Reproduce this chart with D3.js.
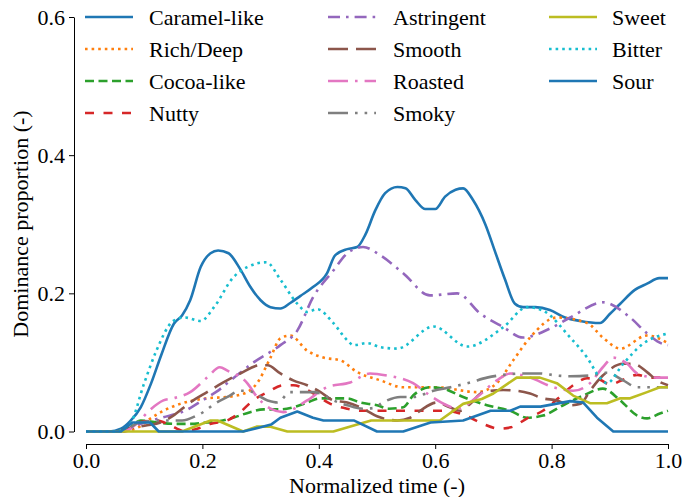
<!DOCTYPE html>
<html>
<head>
<meta charset="utf-8">
<script src="https://cdn.jsdelivr.net/npm/d3@7"></script>
<style>
  body { margin: 0; background: #fff; }
</style>
</head>
<body>
<svg id="chart" width="683" height="497"></svg>
<script>
// values, [time, proportion]
const categories = ["Caramel-like", "Rich/Deep", "Cocoa-like", "Nutty", "Astringent", "Smooth",
                    "Roasted", "Smoky", "Sweet", "Bitter", "Sour"];

const caramelLike = [[0,0],[0.04,0],[0.06,0.004],[0.076,0.015],[0.094,0.035],[0.112,0.07],[0.129,0.11],
  [0.151,0.156],[0.165,0.168],[0.179,0.19],[0.197,0.238],[0.214,0.258],[0.227,0.262],[0.245,0.258],
  [0.265,0.235],[0.282,0.21],[0.3,0.19],[0.317,0.18],[0.334,0.178],[0.351,0.186],[0.368,0.196],
  [0.39,0.209],[0.414,0.229],[0.428,0.255],[0.449,0.264],[0.466,0.267],[0.48,0.285],[0.497,0.32],
  [0.514,0.345],[0.535,0.354],[0.549,0.352],[0.566,0.335],[0.583,0.322],[0.6,0.322],[0.617,0.34],
  [0.635,0.35],[0.648,0.352],[0.665,0.335],[0.686,0.3],[0.703,0.26],[0.72,0.22],[0.737,0.185],
  [0.751,0.18],[0.772,0.18],[0.797,0.176],[0.823,0.165],[0.849,0.16],[0.883,0.157],[0.9,0.17],
  [0.918,0.185],[0.943,0.205],[0.964,0.214],[0.985,0.222],[1,0.222]];

const richDeep = [[0,0],[0.06,0],[0.094,0.008],[0.106,0.016],[0.133,0.03],[0.162,0.04],[0.207,0.048],
  [0.243,0.05],[0.277,0.057],[0.294,0.07],[0.317,0.107],[0.334,0.135],[0.351,0.139],[0.38,0.117],
  [0.408,0.107],[0.437,0.103],[0.466,0.086],[0.506,0.074],[0.545,0.064],[0.603,0.064],[0.672,0.057],
  [0.706,0.07],[0.734,0.103],[0.763,0.136],[0.809,0.165],[0.861,0.157],[0.888,0.136],[0.918,0.12],
  [0.964,0.139],[1,0.128]];

const cocoaLike = [[0,0],[0.065,0],[0.094,0.016],[0.122,0.013],[0.156,0.011],[0.179,0.011],[0.208,0.013],
  [0.23,0.015],[0.253,0.02],[0.282,0.028],[0.305,0.032],[0.334,0.032],[0.356,0.035],[0.38,0.042],
  [0.403,0.048],[0.449,0.048],[0.471,0.042],[0.5,0.038],[0.52,0.033],[0.545,0.035],[0.562,0.052],
  [0.591,0.064],[0.614,0.062],[0.648,0.05],[0.689,0.038],[0.729,0.03],[0.758,0.02],[0.785,0.023],
  [0.82,0.038],[0.854,0.052],[0.888,0.062],[0.918,0.045],[0.947,0.023],[0.964,0.019],[0.986,0.026],[1,0.03]];

const nutty = [[0,0],[0.065,0],[0.09,0.013],[0.122,0.016],[0.145,0.009],[0.167,0.001],[0.191,0.004],
  [0.213,0.011],[0.243,0.016],[0.265,0.028],[0.287,0.045],[0.312,0.057],[0.339,0.067],[0.356,0.067],
  [0.391,0.055],[0.42,0.04],[0.449,0.033],[0.476,0.03],[0.52,0.03],[0.574,0.03],[0.62,0.03],
  [0.655,0.022],[0.682,0.011],[0.71,0.004],[0.73,0.006],[0.758,0.019],[0.785,0.03],[0.814,0.05],
  [0.837,0.067],[0.861,0.077],[0.883,0.075],[0.9,0.068],[0.923,0.075],[0.947,0.082],[0.969,0.078],[1,0.078]];

const astringent = [[0,0],[0.06,0],[0.09,0.01],[0.13,0.02],[0.17,0.03],[0.2,0.045],[0.225,0.058],
  [0.25,0.075],[0.288,0.1],[0.334,0.125],[0.363,0.146],[0.39,0.194],[0.425,0.233],[0.449,0.258],
  [0.476,0.267],[0.506,0.255],[0.545,0.229],[0.591,0.197],[0.638,0.2],[0.677,0.171],[0.717,0.151],
  [0.751,0.136],[0.797,0.149],[0.832,0.165],[0.888,0.187],[0.935,0.165],[0.964,0.142],[0.99,0.127],[1,0.125]];

const smooth = [[0,0],[0.05,0],[0.075,0.005],[0.105,0.009],[0.128,0.013],[0.15,0.023],[0.179,0.042],
  [0.208,0.057],[0.236,0.071],[0.265,0.084],[0.3,0.096],[0.312,0.096],[0.334,0.084],[0.356,0.074],
  [0.38,0.067],[0.403,0.057],[0.425,0.045],[0.449,0.042],[0.476,0.033],[0.5,0.022],[0.535,0.016],
  [0.557,0.02],[0.574,0.03],[0.603,0.042],[0.625,0.035],[0.643,0.03],[0.66,0.04],[0.682,0.057],
  [0.717,0.06],[0.74,0.059],[0.763,0.055],[0.785,0.048],[0.809,0.045],[0.832,0.038],[0.85,0.04],
  [0.866,0.059],[0.888,0.081],[0.923,0.098],[0.94,0.098],[0.964,0.086],[0.981,0.074],[1,0.067]];

const roasted = [[0,0],[0.065,0],[0.088,0.012],[0.106,0.028],[0.133,0.045],[0.15,0.048],[0.179,0.057],
  [0.208,0.078],[0.23,0.093],[0.243,0.088],[0.277,0.07],[0.294,0.05],[0.317,0.033],[0.339,0.028],
  [0.38,0.045],[0.414,0.064],[0.454,0.071],[0.488,0.084],[0.517,0.081],[0.562,0.07],[0.591,0.052],
  [0.62,0.038],[0.638,0.033],[0.672,0.05],[0.706,0.074],[0.729,0.084],[0.763,0.078],[0.803,0.064],
  [0.837,0.059],[0.866,0.07],[0.888,0.093],[0.906,0.107],[0.93,0.098],[0.947,0.084],[0.981,0.078],[1,0.078]];

const smoky = [[0,0],[0.065,0],[0.088,0.012],[0.128,0.016],[0.165,0.016],[0.19,0.023],[0.205,0.03],
  [0.219,0.039],[0.243,0.05],[0.265,0.059],[0.277,0.059],[0.312,0.045],[0.329,0.042],[0.351,0.057],
  [0.39,0.057],[0.403,0.055],[0.425,0.045],[0.449,0.038],[0.476,0.033],[0.494,0.034],[0.51,0.042],
  [0.54,0.05],[0.562,0.05],[0.597,0.059],[0.626,0.064],[0.66,0.071],[0.689,0.078],[0.717,0.082],
  [0.75,0.084],[0.78,0.084],[0.809,0.081],[0.832,0.08],[0.866,0.081],[0.895,0.085],[0.923,0.074],
  [0.947,0.064],[0.969,0.064],[1,0.064]];

const sweet = [[0,0],[0.075,0],[0.165,0],[0.214,0.016],[0.226,0.016],[0.27,0],[0.293,0.007],[0.317,0.007],
  [0.346,0],[0.425,0],[0.466,0.01],[0.49,0.016],[0.608,0.016],[0.648,0.04],[0.68,0.047],[0.7,0.055],
  [0.74,0.078],[0.78,0.078],[0.809,0.07],[0.837,0.052],[0.866,0.041],[0.895,0.041],[0.918,0.048],
  [0.935,0.048],[0.964,0.057],[0.986,0.064],[1,0.064]];

const bitter = [[0,0],[0.05,0],[0.075,0.01],[0.1,0.07],[0.12,0.115],[0.15,0.16],[0.17,0.165],[0.197,0.16],
  [0.22,0.18],[0.253,0.223],[0.277,0.238],[0.31,0.245],[0.334,0.22],[0.363,0.185],[0.38,0.173],
  [0.397,0.177],[0.425,0.157],[0.449,0.132],[0.46,0.125],[0.483,0.128],[0.506,0.122],[0.535,0.12],
  [0.597,0.152],[0.655,0.123],[0.717,0.151],[0.758,0.18],[0.785,0.175],[0.832,0.136],[0.861,0.107],
  [0.883,0.078],[0.895,0.07],[0.923,0.098],[0.957,0.127],[1,0.142]];

const sour = [[0,0],[0.06,0],[0.08,0.013],[0.11,0.013],[0.125,0],[0.27,0],[0.3,0.006],[0.318,0.01],
  [0.334,0.02],[0.363,0.029],[0.39,0.02],[0.408,0.016],[0.46,0.016],[0.5,0],[0.545,0],[0.592,0.013],
  [0.648,0.016],[0.695,0.03],[0.729,0.03],[0.746,0.036],[0.781,0.036],[0.832,0.044],[0.854,0.042],
  [0.878,0.02],[0.906,0],[1,0]];

const seriesValues = [caramelLike, richDeep, cocoaLike, nutty, astringent, smooth,
                      roasted, smoky, sweet, bitter, sour];

const xTicks = [0, 0.2, 0.4, 0.6, 0.8, 1.0];
const yTicks = [0, 0.2, 0.4, 0.6];

// styling
const FONT = "Liberation Serif, Tinos, Times New Roman, Times, DejaVu Serif, serif";
const COLORS = ["#1f77b4", "#ff7f0e", "#2ca02c", "#d62728", "#9467bd", "#8c564b",
                "#e377c2", "#7f7f7f", "#bcbd22", "#17becf", "#1f77b4"];
const DASHES = [null, "2.6,4", "9,4.5", "9,9.5", "12,6,2.6,6", "20,8",
                "20,7,2.6,7", "20,7,2.6,7,2.6,7", null, "2.6,4", null];
const LINEAR = { "Sweet": true, "Sour": true };
const LW = 2.6;

const svg = d3.select("#chart");
const x = d3.scaleLinear().domain([0, 1]).range([86, 668]);
const y = d3.scaleLinear().domain([0, 0.6]).range([431.5, 17]);

// axes (offset spines, no top/right)
svg.append("g")
  .attr("class", "x-axis")
  .attr("transform", "translate(0,444)")
  .call(d3.axisBottom(x).tickValues(xTicks).tickFormat(d3.format(".1f"))
        .tickSize(5).tickSizeOuter(0).tickPadding(3.5));

svg.append("g")
  .attr("class", "y-axis")
  .attr("transform", "translate(74,0)")
  .call(d3.axisLeft(y).tickValues(yTicks).tickFormat(d3.format(".1f"))
        .tickSize(5).tickSizeOuter(0).tickPadding(4));

svg.selectAll(".x-axis, .y-axis")
  .attr("font-family", FONT)
  .attr("font-size", 22);
svg.selectAll(".tick text").attr("fill", "#000");
svg.selectAll(".domain, .tick line").attr("stroke", "#000").attr("stroke-width", 1);

svg.append("text")
  .attr("x", 377).attr("y", 493)
  .attr("text-anchor", "middle")
  .attr("font-family", FONT)
  .attr("font-size", 22)
  .text("Normalized time (-)");

svg.append("text")
  .attr("transform", "translate(28,224) rotate(-90)")
  .attr("text-anchor", "middle")
  .attr("font-family", FONT)
  .attr("font-size", 22)
  .text("Dominance proportion (-)");

// lines
const plot = svg.append("g");
categories.forEach(function(name, i) {
  let line = d3.line()
    .x(function(d) { return x(d[0]); })
    .y(function(d) { return y(d[1]); })
    .curve(LINEAR[name] ? d3.curveLinear : d3.curveMonotoneX);

  plot.append("path")
    .datum(seriesValues[i])
    .attr("d", line)
    .attr("fill", "none")
    .attr("stroke", COLORS[i])
    .attr("stroke-width", LW)
    .attr("stroke-dasharray", DASHES[i])
    .attr("stroke-linejoin", "round");
});

// legend, 3 columns x 4 rows
const legCols = [{ x0: 85, tx: 149 }, { x0: 328, tx: 393 }, { x0: 549, tx: 612 }];
const legend = svg.append("g")
  .attr("font-family", FONT)
  .attr("font-size", 22);
categories.forEach(function(name, i) {
  let col = legCols[Math.floor(i / 4)];
  let ry = 17 + (i % 4) * 32;
  legend.append("line")
    .attr("x1", col.x0).attr("x2", col.x0 + 48)
    .attr("y1", ry).attr("y2", ry)
    .attr("stroke", COLORS[i])
    .attr("stroke-width", LW)
    .attr("stroke-dasharray", DASHES[i]);
  legend.append("text")
    .attr("x", col.tx).attr("y", ry)
    .attr("dy", "0.35em")
    .text(name);
});
</script>
</body>
</html>
